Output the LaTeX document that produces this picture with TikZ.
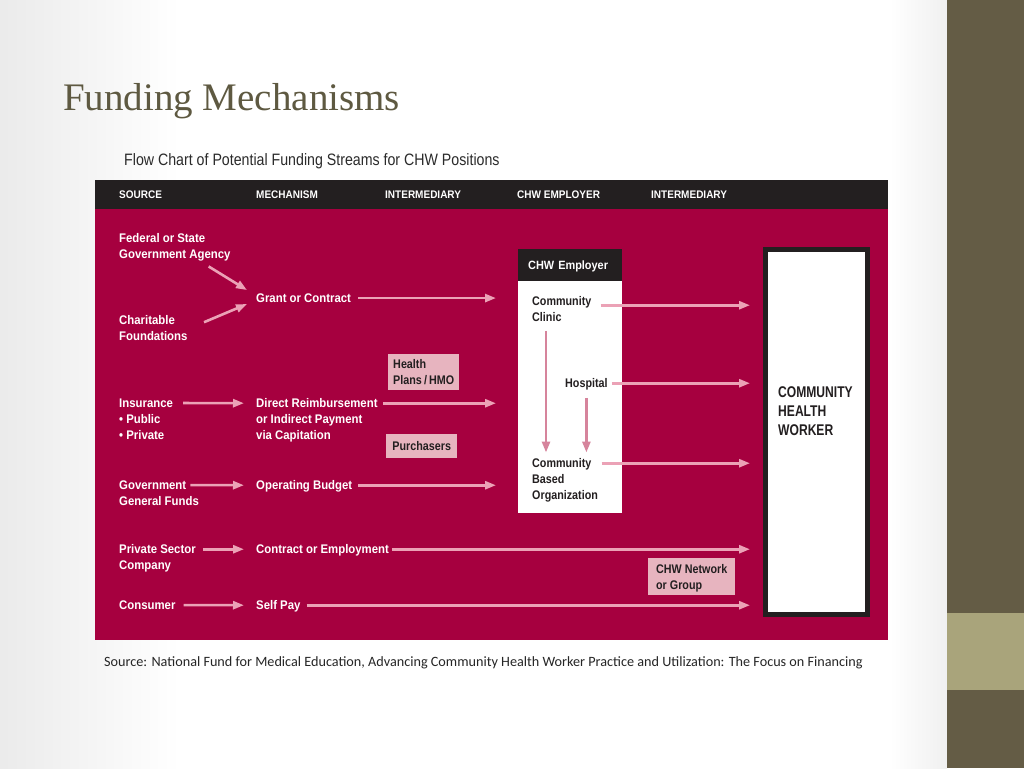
\documentclass[tikz,border=0pt]{standalone}
\usepackage{fontspec}
\setmainfont{Liberation Serif}
\newfontfamily\chartfont[FakeStretch=0.86]{Liberation Sans}
\newfontfamily\widefont[FakeStretch=0.91]{Liberation Sans}
\newfontfamily\tallfont[FakeStretch=0.78]{Liberation Sans}
\newfontfamily\notefont{Carlito}
\usetikzlibrary{arrows.meta}
\definecolor{crimson}{HTML}{A6003F}
\definecolor{inkblack}{HTML}{231F20}
\definecolor{arrowpink}{HTML}{EBA2B6}
\definecolor{innerpink}{HTML}{D6849C}
\definecolor{boxpink}{HTML}{E7B4BF}
\definecolor{olivedark}{HTML}{645C45}
\definecolor{olivelight}{HTML}{A9A47B}
\definecolor{titlecol}{HTML}{5E5941}
\definecolor{subtitlecol}{HTML}{2B2B2B}
\definecolor{notecol}{HTML}{262626}

\begin{document}
\begin{tikzpicture}[x=1pt,y=-1pt,>={Triangle[length=11pt,width=8pt]},
  txt/.style={font=\widefont\fontsize{12.5}{16}\selectfont\bfseries,text=white,inner sep=0pt,text depth=0pt,align=left,anchor=north west},
  dark/.style={txt,text=inkblack,font=\chartfont\fontsize{12.5}{16}\selectfont\bfseries},
  colhead/.style={font=\widefont\fontsize{11}{13}\selectfont\bfseries,text=white,inner sep=0pt,text depth=0pt,anchor=west},
  interbox/.style={fill=boxpink,text=inkblack,font=\chartfont\fontsize{12.5}{16}\selectfont\bfseries,align=left,anchor=north west,inner sep=0pt,text depth=0pt},
  flow/.style={->,draw=arrowpink,line width=2.6pt},
  innerflow/.style={flow,draw=innerpink}]
% slide background
\fill[white] (0,0) rectangle (1024,768);
\useasboundingbox (0,0) rectangle (1024,768);
\shade[left color=black!8,right color=white] (0,0) rectangle (180,768);
\shade[left color=white,right color=black!6] (890,0) rectangle (947,768);
\fill[olivedark] (947,0) rectangle (1024,768);
\fill[olivelight] (947,613) rectangle (1024,690);

\node[anchor=base west,inner sep=0pt,text=titlecol,font=\fontsize{39}{45}\selectfont] (title) at (63,110) {Funding Mechanisms};
\node[anchor=north west,inner sep=0pt,text=subtitlecol,font=\chartfont\fontsize{16.5}{20}\selectfont] (subtitle) at (124,153.5) {Flow Chart of Potential Funding Streams for CHW Positions};

% chart panel
\fill[inkblack] (95,180) rectangle (888,209);
\fill[crimson] (95,209) rectangle (888,640);

\node[colhead] (hsource) at (119,195) {SOURCE};
\node[colhead] (hmech) at (256,195) {MECHANISM};
\node[colhead] (hinter) at (385,195) {INTERMEDIARY};
\node[colhead] (hemp) at (517,195) {CHW EMPLOYER};
\node[colhead] (hinterb) at (651,195) {INTERMEDIARY};

% sources
\node[txt] (fed) at (119,233.5) {Federal or State\\Government Agency};
\node[txt] (char) at (119,315.5) {Charitable};
\node[txt] (charb) at (119,331.5) {Foundations};
\node[txt] (insur) at (119,398.5) {Insurance};
\node[txt] (insurb) at (119,414.5) {• Public\\• Private};
\node[txt] (gov) at (119,480.5) {Government};
\node[txt] (govb) at (119,496.5) {General Funds};
\node[txt] (priv) at (119,544.5) {Private Sector};
\node[txt] (privb) at (119,560.5) {Company};
\node[txt] (cons) at (119,600.5) {Consumer};

% mechanisms
\node[txt] (grant) at (256,293.5) {Grant or Contract};
\node[txt] (direct) at (256,398.5) {Direct Reimbursement};
\node[txt] (directb) at (256,414.5) {or Indirect Payment\\via Capitation};
\node[txt] (budget) at (256,480.5) {Operating Budget};
\node[txt] (contract) at (256,544.5) {Contract or Employment};
\node[txt] (selfpay) at (256,600.5) {Self Pay};

% intermediaries
\node[interbox,minimum width=71pt,minimum height=36pt] (hmo) at (388,354) {Health\\Plans\,/\,HMO};
\node[interbox,minimum width=71pt,minimum height=24pt] (purch) at (386,434) {Purchasers};
\node[interbox,minimum width=87pt,minimum height=37pt] (network) at (648,558) {CHW Network\\or Group};

% employer
\node[fill=white,minimum width=104pt,minimum height=264pt,inner sep=0pt,anchor=north west] (employer) at (518,249) {};
\node[txt,font=\widefont\fontsize{12}{16}\selectfont\bfseries,fill=inkblack,minimum width=104pt,minimum height=32pt,text width=84pt,inner xsep=10pt,inner ysep=0pt] (emphead) at (employer.north west) {CHW Employer};
\node[dark] (clinic) at (532,296.5) {Community};
\node[dark] (clinicb) at (532,312.5) {Clinic};
\node[dark] (hosp) at (565,378.5) {Hospital};
\node[dark] (cbo) at (532,458.5) {Community};
\node[dark] (cbob) at (532,474.5) {Based\\Organization};

% worker
\node[draw=inkblack,line width=5pt,fill=white,minimum width=102pt,minimum height=365pt] (chw) at (816.5,432) {};
\node[dark,font=\tallfont\fontsize{15.5}{19}\selectfont\bfseries] (chwtext) at (778,386.5) {COMMUNITY\\HEALTH\\WORKER};

% arrows
\draw[flow] ([xshift=-22pt,yshift=-7.5pt]fed.south east) -- ([xshift=-9pt,yshift=8pt]grant.west);
\draw[flow] ([xshift=29pt,yshift=-2pt]char.east) -- ([xshift=-9pt,yshift=-6pt]grant.west);
\draw[flow,shorten <=10pt,shorten >=12pt] (insur.east) -- (direct.west);
\draw[flow,shorten <=4pt,shorten >=12pt] (gov.east) -- (budget.west);
\draw[flow,shorten <=7pt,shorten >=12pt] (priv.east) -- (contract.west);
\draw[flow,shorten <=8pt,shorten >=12pt] (cons.east) -- (selfpay.west);

\draw[flow,shorten <=7pt,shorten >=22pt] (grant.east) -- (grant.east -| employer.west);
\draw[flow,shorten <=5pt,shorten >=22pt] (direct.east) -- (direct.east -| employer.west);
\draw[flow,shorten <=6pt,shorten >=22pt] (budget.east) -- (budget.east -| employer.west);
\draw[flow,shorten <=3pt,shorten >=13pt] (contract.east) -- (contract.east -| chw.west);
\draw[flow,shorten <=6pt,shorten >=13pt] (selfpay.east) -- (selfpay.east -| chw.west);

\coordinate (clinicout) at ([xshift=9pt,yshift=-4pt]clinic.east);
\draw[flow,shorten >=13pt] (clinicout) -- (clinicout -| chw.west);
\draw[flow,shorten <=4pt,shorten >=13pt] (hosp.east) -- (hosp.east -| chw.west);
\draw[flow,shorten <=10pt,shorten >=13pt] (cbo.east) -- (cbo.east -| chw.west);

\draw[innerflow,shorten <=9pt,shorten >=6pt] ([xshift=14pt]clinicb.south west) -- ([xshift=14pt]cbo.north west);
\draw[innerflow,shorten <=10pt,shorten >=6pt] (hosp.south) -- (hosp.south |- cbo.north);

\node[anchor=base west,inner sep=0pt,text=notecol,font=\notefont\fontsize{14.2}{16}\selectfont] (source) at (104,666) {Source: National Fund for Medical Education, Advancing Community Health Worker Practice and Utilization: The Focus on Financing};
\end{tikzpicture}
\end{document}
